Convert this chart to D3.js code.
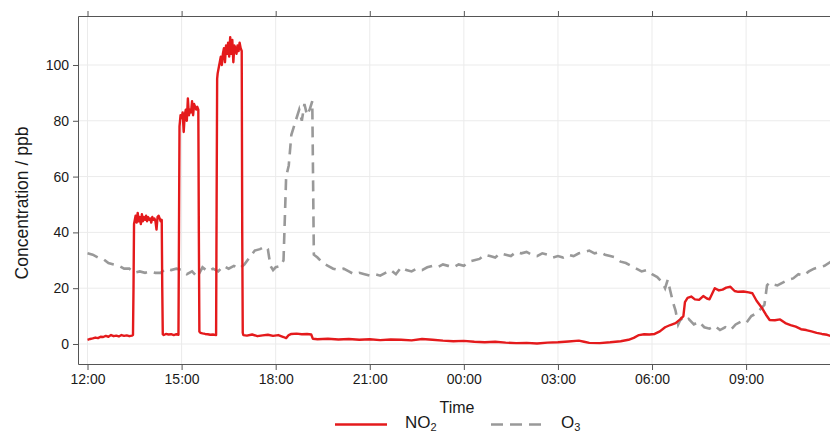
<!DOCTYPE html>
<html>
<head>
<meta charset="utf-8">
<script src="https://cdn.jsdelivr.net/npm/d3@7"></script>
<style>
  body { margin: 0; background: #fff; }
  svg { font-family: "Liberation Sans", Arial, sans-serif; }
</style>
</head>
<body>
<div id="chart"></div>
<script>
// minutes after 12:00 on day one, and concentrations in ppb
const no2Minutes = [0,5,10,15,20,25,30,35,40,45,50,55,60,65,70,75,80,85,87,
  88,89,90,92,94,96,98,100,102,104,106,108,110,112,114,116,118,120,122,124,126,128,130,132,134,136,138,140,142,
  143,144,146,150,155,160,165,170,174,
  175,176,177,178,180,182,184,186,188,190,192,194,196,198,200,202,204,206,208,210,212,
  213,214,216,220,225,230,235,240,246,
  247,248,249,251,253,255,257,259,261,263,265,267,269,271,273,275,277,279,281,283,285,287,289,291,293,295,
  296,297,298,305,315,325,335,345,355,365,375,380,385,390,400,410,420,428,
  431,440,460,480,500,520,540,560,580,600,620,640,660,680,700,720,740,760,780,800,820,840,860,880,900,920,940,950,960,980,1000,1020,
  1035,1045,1055,1065,1075,1085,1095,1105,1115,1125,1135,1140,1143,1148,1155,1162,1170,1178,1185,1190,1195,1200,1208,1215,1222,1230,1238,1245,1255,1265,1272,
  1280,1290,1298,1305,1315,1325,1335,1345,1355,1365,1375,1385,1395,1405,1415,1422];
const no2Values = [1.5,1.8,2.0,2.3,2.1,2.6,2.5,2.9,2.6,3.2,2.8,3.0,2.7,3.2,2.9,3.1,2.8,3.0,3.2,
  20,43,44,46,43.5,47,44,45.5,43,46.5,44,45.5,44.5,46,44,45.5,44.5,45,43.5,45.5,44.5,45,44,41,45.5,46,45,44,44.5,
  20,3.5,3.2,3.6,3.4,3.5,3.2,3.5,3.3,
  40,78,80,82,81,83,76,82,84,80,88,82,84,83,87,82,86,85,84,85,84,
  40,4.5,4.0,3.8,3.6,3.5,3.3,3.4,3.2,
  50,95,97,99,101,103,100,104,106,101,107,104,108,103,110,104,109,101,107,106,104,107,105,108,106,105,
  40,4,3.2,3.0,3.4,2.8,3.1,3.3,2.9,3.2,2.5,2.1,3.2,3.6,3.7,3.5,3.6,3.4,
  1.9,1.7,1.9,1.6,1.8,1.5,1.7,1.4,1.6,1.5,1.3,1.8,1.5,1.2,1.0,1.1,0.8,0.6,0.8,0.5,0.3,0.4,0.2,0.5,0.6,0.9,1.2,0.8,0.4,0.3,0.6,1.0,
  1.5,2.2,3.2,3.5,3.4,3.6,4.5,6.0,6.8,7.5,9.0,10,15,16.5,17,16,15.8,17.2,16.3,16,18,20,19.2,19.5,20.2,20.5,19,18.7,18.8,18.5,18.2,
  15.5,13,10.5,8.6,8.5,8.8,7.5,6.8,6.2,5.3,5.0,4.5,4.0,3.6,3.3,2.9];

const o3Minutes = [0,10,20,30,40,50,60,70,80,90,100,110,120,130,140,150,160,170,180,190,200,210,220,230,240,250,260,270,280,290,
  300,310,320,330,340,345,350,355,360,370,375,380,385,390,395,400,405,410,415,420,425,430,433,
  440,450,460,470,480,490,500,510,520,530,540,550,560,570,580,590,600,610,620,630,640,650,660,670,680,690,700,710,720,
  730,740,750,760,770,780,790,800,810,820,830,840,850,860,870,880,890,900,910,920,930,940,950,960,970,980,990,1000,1010,
  1020,1030,1040,1050,1060,1070,1080,1090,1100,1105,1110,1115,1120,1125,1130,1135,1140,1150,1160,1170,1180,1190,1200,1210,1220,1230,1240,1250,1260,1270,1280,1290,1295,
  1300,1305,1310,1320,1330,1340,1350,1360,1370,1380,1390,1400,1410,1422];
const o3Values = [32.5,32,31,30.5,29,28.5,28,27,27,25.5,26,25.5,26,25.5,25.5,27,26.5,27,26.5,25,26,24,27.5,26,27,26,28,27,28,27,
  28.5,31,33.5,34,35,34,28,26.5,27.5,28,30,60,64,75,78,81,84,80,86,82,84,87,32,
  31,29,28,27,26.5,27,26,25,25.5,25,24.5,25,24.5,25.5,26.5,25,27.5,26.5,26,27,26.5,27.5,28,27.5,28.5,28,27.5,28.5,28,
  29.5,30,30.5,32,31.5,31,32.5,32,31.5,33,32.5,33,32,31.5,32.5,32,31,31.5,31,32,31.5,32.5,33,33.5,32.5,33,32,31.5,31,
  29.5,29,28,27,26,26.5,25,24,22,20,23,19,15,12,7,9,8,9,7,8,6,5.5,6.5,5,6,5,7,8,7.5,10,11,13,14,
  21,22,21.5,21,22,23,23.5,25,24.5,26,27,27.5,28,29.5];

const yTicks = [0, 20, 40, 60, 80, 100];
const xTickHours = [0, 3, 6, 9, 12, 15, 18, 21];
const xTickLabels = ["12:00", "15:00", "18:00", "21:00", "00:00", "03:00", "06:00", "09:00"];

const no2Data = no2Minutes.map((m, i) => ({ m, v: no2Values[i] }));
const o3Data = o3Minutes.map((m, i) => ({ m, v: o3Values[i] }));

const width = 830, height = 434;
const panel = { left: 78, right: 830, top: 16, bottom: 365 };

const svg = d3.select('#chart').append('svg')
  .attr('width', width)
  .attr('height', height);

const x = d3.scaleLinear()
  .domain([-18.2, 1420.5])
  .range([panel.left, panel.right]);

const y = d3.scaleLinear()
  .domain([-7.53, 117.56])
  .range([panel.bottom, panel.top]);

svg.append('clipPath').attr('id', 'clip')
  .append('rect')
  .attr('x', panel.left).attr('y', panel.top)
  .attr('width', panel.right - panel.left).attr('height', panel.bottom - panel.top);

// grid lines
svg.selectAll('line.hgrid')
  .data(yTicks)
  .enter().append('line')
  .attr('class', 'hgrid')
  .attr('x1', panel.left).attr('x2', panel.right)
  .attr('y1', d => y(d)).attr('y2', d => y(d))
  .style('stroke', '#ebebeb')
  .style('stroke-width', 1);

svg.selectAll('line.vgrid')
  .data(xTickHours)
  .enter().append('line')
  .attr('class', 'vgrid')
  .attr('y1', panel.top).attr('y2', panel.bottom)
  .attr('x1', d => x(d * 60)).attr('x2', d => x(d * 60))
  .style('stroke', '#ebebeb')
  .style('stroke-width', 1);

// lines
const line = d3.line()
  .x(d => x(d.m))
  .y(d => y(d.v));

const plot = svg.append('g').attr('clip-path', 'url(#clip)');

plot.append('path')
  .datum(o3Data)
  .attr('d', line)
  .style('fill', 'none')
  .style('stroke', '#999999')
  .style('stroke-width', 2.6)
  .style('stroke-dasharray', '11,7');

plot.append('path')
  .datum(no2Data)
  .attr('d', line)
  .style('fill', 'none')
  .style('stroke', '#e41a1c')
  .style('stroke-width', 2.4)
  .style('stroke-linejoin', 'round');

// axes
const axisColor = '#555';

svg.append('g')
  .attr('transform', `translate(${panel.left},0)`)
  .call(d3.axisLeft(y).tickValues(yTicks).tickSize(5).tickPadding(4))
  .call(g => g.select('.domain').remove())
  .call(g => g.selectAll('line').style('stroke', axisColor))
  .call(g => g.selectAll('text').style('font-size', '14px').style('fill', '#1a1a1a'));

svg.append('g')
  .attr('transform', `translate(0,${panel.bottom})`)
  .call(d3.axisBottom(x).tickValues(xTickHours.map(h => h * 60))
    .tickFormat((d, i) => xTickLabels[i]).tickSize(5).tickPadding(4))
  .call(g => g.select('.domain').remove())
  .call(g => g.selectAll('line').style('stroke', axisColor))
  .call(g => g.selectAll('text').style('font-size', '14px').style('fill', '#1a1a1a'));

svg.append('g')
  .attr('transform', `translate(0,${panel.top})`)
  .call(d3.axisTop(x).tickValues(xTickHours.map(h => h * 60)).tickFormat('').tickSize(5))
  .call(g => g.select('.domain').remove())
  .call(g => g.selectAll('line').style('stroke', axisColor));

// panel border (right side runs off the canvas)
svg.append('path')
  .attr('d', `M${panel.right + 2},${panel.top + 0.5}H${panel.left + 0.5}V${panel.bottom - 0.5}H${panel.right + 2}`)
  .style('fill', 'none')
  .style('stroke', axisColor)
  .style('stroke-width', 1);

// axis titles
svg.append('text')
  .attr('transform', 'translate(28,203) rotate(-90)')
  .attr('text-anchor', 'middle')
  .style('font-size', '17.5px')
  .style('fill', '#1a1a1a')
  .text('Concentration / ppb');

svg.append('text')
  .attr('x', 457)
  .attr('y', 413)
  .attr('text-anchor', 'middle')
  .style('font-size', '16px')
  .style('fill', '#1a1a1a')
  .text('Time');

// legend
const legend = svg.append('g');
const legendY = 424.5;

legend.append('line')
  .attr('x1', 335).attr('x2', 387).attr('y1', legendY).attr('y2', legendY)
  .style('stroke', '#e41a1c').style('stroke-width', 2.6);

const no2Label = legend.append('text')
  .attr('x', 405).attr('y', 428)
  .style('font-size', '17px').style('fill', '#1a1a1a');
no2Label.append('tspan').text('NO');
no2Label.append('tspan').attr('dy', 3).style('font-size', '11px').text('2');

legend.append('line')
  .attr('x1', 491).attr('x2', 543).attr('y1', legendY).attr('y2', legendY)
  .style('stroke', '#999999').style('stroke-width', 2.6)
  .style('stroke-dasharray', '12,7');

const o3Label = legend.append('text')
  .attr('x', 561).attr('y', 428)
  .style('font-size', '17px').style('fill', '#1a1a1a');
o3Label.append('tspan').text('O');
o3Label.append('tspan').attr('dy', 3).style('font-size', '11px').text('3');
</script>
</body>
</html>
